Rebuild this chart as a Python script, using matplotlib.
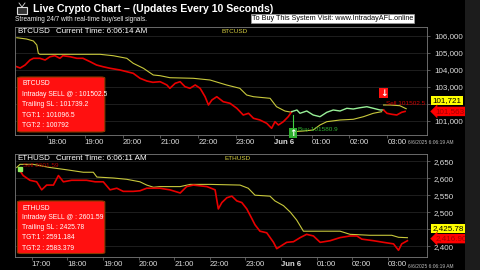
import matplotlib.pyplot as plt
from matplotlib.patches import FancyBboxPatch, Rectangle
from matplotlib.lines import Line2D
from matplotlib.ticker import FuncFormatter

plt.rcParams['font.family'] = ['Liberation Sans', 'DejaVu Sans']

# time axis in hours from Jun 5 00:00 (24 = Jun 6 00:00)
# ---- BTCUSD ----
btc_red1_t = [17.20, 17.29, 17.42, 17.55, 17.64, 17.81, 17.95, 18.08, 18.21, 18.34, 18.42, 18.61,
              18.79, 18.95, 19.14, 19.31, 19.48, 19.67, 19.93, 20.11, 20.28, 20.46, 20.64, 20.80,
              20.99, 21.08, 21.17, 21.25, 21.39, 21.52, 21.65, 21.78, 21.92, 22.05, 22.18, 22.27,
              22.36, 22.49, 22.66, 22.84, 23.02, 23.19, 23.33, 23.46, 23.63, 23.81, 23.94, 24.03,
              24.12, 24.25, 24.38, 24.47]
btc_red1_v = [104194, 104117, 104294, 104588, 104688, 104688, 104588, 104782, 104841, 104688, 104841, 104782,
              104688, 104688, 104488, 104294, 104194, 104100, 104000, 103900, 103806, 103512, 103353, 103276,
              103312, 103218, 103118, 102923, 103218, 103312, 103018, 102923, 103118, 102923, 102429, 101941,
              102235, 102429, 102135, 102041, 101747, 101353, 101453, 101159, 101059, 100865, 100571, 100959,
              100765, 100959, 101253, 101547]
btc_green_t = [24.47, 24.61, 24.69, 24.87, 25.04, 25.22, 25.40, 25.57, 25.75, 25.93, 26.10, 26.28,
               26.46, 26.63, 26.81, 26.90]
btc_green_v = [101547, 101647, 101453, 101588, 101353, 101253, 101512, 101647, 101588, 101747, 101706, 101782,
               101841, 101747, 101647, 101647]
btc_red2_t = [26.90, 26.99, 27.12, 27.25, 27.38, 27.47]
btc_red2_v = [101647, 101453, 101394, 101353, 101512, 101563]

btc_sl1_t = [17.20, 17.46, 17.64, 17.73, 17.77, 17.81, 18.52, 19.40, 19.75, 20.11, 20.28, 20.55, 20.81,
             20.99, 21.25, 21.87, 22.31, 22.75, 23.10, 23.28, 23.46, 23.90, 24.07, 24.29, 24.47]
btc_sl1_v = [105900, 105823, 105706, 105470, 104982, 104923, 104923, 104923, 104841, 104688, 104394, 104100,
             103706, 103665, 103547, 103512, 103412, 103118, 102923, 102529, 102429, 102335, 101841, 101588,
             101512]
btc_sl2_t = [24.52, 24.78, 25.04, 25.22, 25.40, 25.75, 26.10, 26.37, 26.63, 26.85]
btc_sl2_v = [100371, 100412, 100471, 100765, 100959, 101059, 101100, 101253, 101453, 101547]
btc_sl3_t = [26.90, 27.07, 27.33, 27.50]
btc_sl3_v = [101941, 101941, 101900, 101721]

btc_buy = (24.50, 101580.9)
btc_sell = (26.90, 101502.5)
btc_info = ['BTCUSD', 'Intraday SELL @ : 101502.5', 'Trailing SL : 101739.2',
            'TGT:1 : 101096.5', 'TGT:2 : 100792']

# ---- ETHUSD ----
eth_red_t = [16.67, 16.76, 16.95, 17.14, 17.28, 17.42, 17.61, 17.75, 17.89, 18.12, 18.31, 18.54, 18.78,
             19.01, 19.20, 19.39, 19.57, 19.85, 20.04, 20.23, 20.42, 20.60, 20.88, 21.17, 21.35, 21.54,
             21.92, 22.15, 22.24, 22.34, 22.48, 22.62, 22.76, 22.90, 23.04, 23.18, 23.27, 23.41, 23.60,
             23.79, 23.88, 24.02, 24.16, 24.35, 24.54, 24.72, 24.91, 25.10, 25.38, 25.66, 25.94, 26.13,
             26.27, 26.60, 26.88, 27.16, 27.30, 27.39, 27.55]
eth_red_v = [2622.8, 2608.7, 2594.7, 2590.2, 2566.6, 2580.6, 2580.6, 2608.7, 2590.2, 2594.7, 2594.7, 2594.7,
             2590.2, 2590.2, 2566.6, 2571.3, 2562.1, 2562.1, 2563.8, 2571.3, 2571.3, 2571.3, 2566.6, 2557.3,
             2576.1, 2580.6, 2576.1, 2566.6, 2510.4, 2529.2, 2543.3, 2548.0, 2534.0, 2529.2, 2510.4, 2482.3,
             2463.8, 2444.9, 2440.2, 2412.1, 2393.5, 2402.8, 2412.1, 2414.0, 2426.1, 2435.7, 2430.9, 2412.1,
             2416.9, 2426.1, 2430.9, 2430.9, 2421.6, 2416.9, 2412.1, 2407.6, 2388.8, 2407.6, 2416.9]
eth_sl_t = [16.58, 16.67, 17.04, 17.51, 17.98, 18.45, 18.73, 18.83, 19.29, 19.67, 20.04, 20.23, 20.42,
            20.60, 21.17, 21.45, 22.01, 22.85, 23.08, 23.27, 23.69, 23.83, 24.07, 24.26, 24.44, 24.63,
            25.10, 25.66, 25.94, 26.50, 27.11, 27.30, 27.55]
eth_sl_v = [2632.3, 2641.6, 2641.6, 2632.3, 2625.6, 2618.3, 2618.3, 2604.2, 2601.4, 2597.5, 2590.2, 2580.6,
            2574.2, 2576.1, 2576.1, 2582.6, 2582.6, 2580.6, 2571.3, 2550.8, 2548.0, 2534.0, 2520.0, 2501.1,
            2477.8, 2444.9, 2444.9, 2444.9, 2435.7, 2432.9, 2432.9, 2427.0, 2425.78]
eth_sell = (16.67, 2601.59)
eth_info = ['ETHUSD', 'Intraday SELL @ : 2601.59', 'Trailing SL : 2425.78',
            'TGT:1 : 2591.184', 'TGT:2 : 2583.379']

btc_xticks = [18, 19, 20, 21, 22, 23, 24, 25, 26, 27]
btc_xlabels = ['18:00', '19:00', '20:00', '21:00', '22:00', '23:00', 'Jun 6', '01:00', '02:00', '03:00']
eth_xticks = [17, 18, 19, 20, 21, 22, 23, 24, 25, 26, 27]
eth_xlabels = ['17:00', '18:00', '19:00', '20:00', '21:00', '22:00', '23:00', 'Jun 6', '01:00', '02:00', '03:00']
btc_yticks = [101000, 102000, 103000, 104000, 105000, 106000]
eth_yticks = [2400, 2450, 2500, 2550, 2600, 2650]
btc_hidden_tick = 102000   # covered by the price tags
eth_hidden_tick = 2450

RED = '#e80000'
YEL = '#c8c83c'
GRN = '#98f098'

fig = plt.figure(figsize=(4.8, 2.7), dpi=100, facecolor='black')
fig.patches.append(Rectangle((465 / 480, 0), 15 / 480, 1, transform=fig.transFigure,
                             fc='#1c1c1c', ec='none', zorder=0))

ax1 = fig.add_axes([15 / 480, 0.5, 412 / 480, 0.4])
ax2 = fig.add_axes([15 / 480, 13 / 270, 412 / 480, 103 / 270])


def style_axes(ax, xlim, ylim, xticks, xlabels, yticks, hidden):
    ax.set_facecolor('black')
    for s in ax.spines.values():
        s.set_color('#7a7a7a')
        s.set_linewidth(0.6)
    ax.set_xlim(*xlim)
    ax.set_ylim(*ylim)
    ax.yaxis.tick_right()
    ax.set_yticks(yticks)
    ax.yaxis.set_major_formatter(FuncFormatter(lambda v, p: '' if v == hidden else '{:,.0f}'.format(v)))
    ax.set_xticks(xticks)
    ax.set_xticklabels(xlabels)
    for lab in ax.get_xticklabels():
        lab.set_ha('left')
        if lab.get_text() == 'Jun 6':
            lab.set_fontweight('bold')
    ax.tick_params(axis='y', color='#777777', labelcolor='#dddddd', labelsize=5.8,
                   length=2, width=0.5, pad=3)
    ax.tick_params(axis='x', color='#777777', labelcolor='#dddddd', labelsize=5.6,
                   length=2.5, width=0.5, pad=0.3)
    ax.grid(axis='y', color='#2a2a2a', lw=0.5)
    ax.set_axisbelow(True)


def info_box(ax, lines, y0, y1, ys):
    ax.add_patch(FancyBboxPatch((0.006, y0), 0.212, y1 - y0, boxstyle='round,pad=0,rounding_size=0.01',
                                transform=ax.transAxes, fc='#ff1010', ec='#8a3a00', lw=0.8, zorder=5))
    for txt, y in zip(lines, ys):
        ax.text(0.017, y, txt, transform=ax.transAxes, fontsize=4.9, color='white',
                va='center', zorder=6)


def value_tag(ax, value, text, fc, tc, dy, arrow=False):
    ax.annotate(text, xy=(1, value), xycoords=ax.get_yaxis_transform(),
                xytext=(4 if not arrow else 6, dy), textcoords='offset points',
                ha='left', va='center', fontsize=5.8, color=tc, annotation_clip=False, zorder=10,
                bbox=dict(boxstyle='larrow,pad=0.15' if arrow else 'square,pad=0.15', fc=fc, ec='none'))


def signal(ax, xy, glyph, fc, dy):
    ax.annotate(glyph, xy=xy, xytext=(0, dy), textcoords='offset points', ha='center',
                va='center', fontsize=6.5, color='white', fontweight='bold',
                family=['DejaVu Sans'],
                bbox=dict(boxstyle='square,pad=0.05', fc=fc, ec='none'), zorder=8)


# ---------- BTC panel ----------
style_axes(ax1, (17.153, 28.05), (100176, 106530), btc_xticks, btc_xlabels, btc_yticks, btc_hidden_tick)
ax1.plot(btc_sl1_t, btc_sl1_v, color=YEL, lw=0.8)
ax1.plot(btc_sl2_t, btc_sl2_v, color=YEL, lw=0.8)
ax1.plot(btc_sl3_t, btc_sl3_v, color=YEL, lw=0.8)
ax1.plot(btc_red1_t, btc_red1_v, color=RED, lw=1.2)
ax1.plot(btc_green_t, btc_green_v, color=GRN, lw=1.0)
ax1.plot(btc_red2_t, btc_red2_v, color=RED, lw=1.2)

ax1.plot([btc_buy[0], btc_buy[0]], [btc_buy[1] - 250, btc_buy[1] - 950], color='#40d040', lw=0.8)
signal(ax1, btc_buy, '\u2191', '#30b030', -16)
ax1.annotate('Buy %.1f' % btc_buy[1], xy=btc_buy, xytext=(4, -13), textcoords='offset points',
             fontsize=4.6, color='#30b030', va='center')
signal(ax1, btc_sell, '\u2193', '#ff1010', 14)
ax1.annotate('Sell %.1f' % btc_sell[1], xy=(btc_sell[0], btc_red2_v[0]), xytext=(2, 5),
             textcoords='offset points', fontsize=4.6, color='#d00000', va='center')

ax1.text(0.005, 0.955, 'BTCUSD', transform=ax1.transAxes, fontsize=5.8, color='white', va='center')
ax1.text(0.099, 0.955, 'Current Time: 6:06:14 AM', transform=ax1.transAxes, fontsize=5.8,
         color='white', va='center')
ax1.text(0.534, 0.955, 'BTCUSD', transform=ax1.transAxes, fontsize=4.6, color='#d8d040',
         va='center', ha='center')
info_box(ax1, btc_info, 0.028, 0.537, [0.479, 0.377, 0.278, 0.185, 0.086])
value_tag(ax1, btc_sl3_v[-1], '{:,.0f}'.format(btc_sl3_v[-1]), '#ffff00', 'black', 6)
value_tag(ax1, btc_red2_v[-1], '{:,.0f}'.format(btc_red2_v[-1]), '#ff0000', '#a00000', 0, arrow=True)

# ---------- ETH panel ----------
style_axes(ax2, (16.531, 28.10), (2369, 2672), eth_xticks, eth_xlabels, eth_yticks, eth_hidden_tick)
ax2.plot(eth_sl_t, eth_sl_v, color=YEL, lw=0.8)
ax2.plot(eth_red_t, eth_red_v, color=RED, lw=1.2)
ax2.plot(eth_sl_t[1], eth_sl_v[1] - 15, marker='s', ms=2.5, color='#90ee60')
ax2.annotate('Sell %.2f' % eth_sell[1], xy=(eth_red_t[0], eth_red_v[0]), xytext=(2, 4),
             textcoords='offset points', fontsize=4.6, color='#b00000', va='center')
ax2.text(0.005, 0.955, 'ETHUSD', transform=ax2.transAxes, fontsize=5.8, color='white', va='center')
ax2.text(0.099, 0.955, 'Current Time: 6:06:11 AM', transform=ax2.transAxes, fontsize=5.8,
         color='white', va='center')
ax2.text(0.541, 0.955, 'ETHUSD', transform=ax2.transAxes, fontsize=4.6, color='#d8d040',
         va='center', ha='center')
info_box(ax2, eth_info, 0.034, 0.544, [0.475, 0.380, 0.287, 0.185, 0.080])
value_tag(ax2, eth_sl_v[-1], '{:,.2f}'.format(eth_sl_v[-1]), '#ffff00', 'black', 6.5)
value_tag(ax2, eth_red_v[-1], '{:,.2f}'.format(eth_red_v[-1]), '#ff0000', '#a00000', 1.5, arrow=True)

# ---------- header ----------
fig.patches.append(Rectangle((17 / 480, 1 - 14 / 270), 10 / 480, 7 / 270, transform=fig.transFigure,
                             fc='#333333', ec='#dddddd', lw=0.8))
fig.lines.append(Line2D([19 / 480, 22 / 480, 25 / 480], [1 - 3 / 270, 1 - 7 / 270, 1 - 3 / 270],
                        transform=fig.transFigure, color='#dddddd', lw=0.6))
fig.text(33 / 480, 1 - 8.5 / 270, 'Live Crypto Chart \u2013 (Updates Every 10 Seconds)', fontsize=7.6,
         fontweight='bold', color='white', va='center')
fig.text(15 / 480, 1 - 19.5 / 270, 'Streaming 24/7 with real-time buy/sell signals.', fontsize=4.7,
         color='#eeeeee', va='center')
fig.text(252 / 480, 1 - 18.5 / 270, 'To Buy This System Visit: www.IntradayAFL.online', fontsize=5.2,
         color='black', va='center',
         bbox=dict(boxstyle='square,pad=0.15', fc='white', ec='#999999', lw=0.5))
fig.text(408 / 480, 1 - 142 / 270, '6/6/2025 6:06:19 AM', fontsize=3.5, color='#bbbbbb', va='center')
fig.text(408 / 480, 1 - 266 / 270, '6/6/2025 6:06:19 AM', fontsize=3.5, color='#bbbbbb', va='center')

fig.savefig('out.png', dpi=100, facecolor='black')
